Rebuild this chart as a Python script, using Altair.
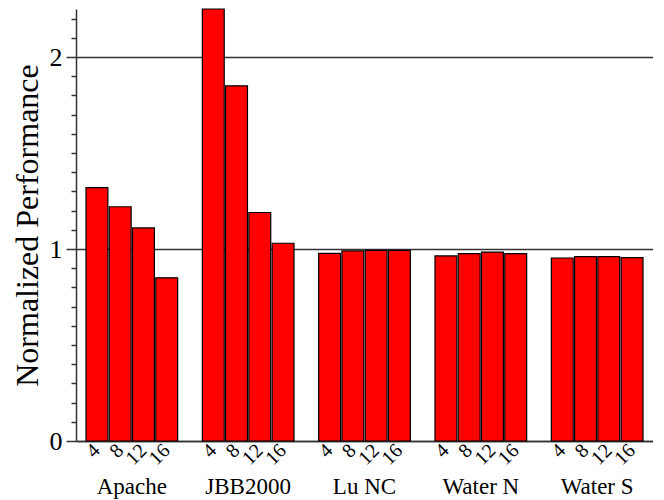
import altair as alt
import pandas as pd

groups = ["Apache", "JBB2000", "Lu NC", "Water N", "Water S"]
configs = ["4", "8", "12", "16"]
apache = [1.32, 1.22, 1.11, 0.85]
jbb2000 = [2.25, 1.85, 1.19, 1.03]
lu_nc = [0.977, 0.99, 0.993, 0.993]
water_n = [0.964, 0.976, 0.984, 0.976]
water_s = [0.953, 0.96, 0.96, 0.955]
y_ticks = [0, 0.1, 0.2, 0.3, 0.4, 0.5, 0.6, 0.7, 0.8, 0.9, 1,
           1.1, 1.2, 1.3, 1.4, 1.5, 1.6, 1.7, 1.8, 1.9, 2, 2.1, 2.2]
major_ticks = [0, 1, 2]

rows = []
x_domain = []
for i, (g, vals) in enumerate(zip(groups, [apache, jbb2000, lu_nc, water_n, water_s])):
    if i > 0:
        x_domain.append(f"gap{i}")
    for c, v in zip(configs, vals):
        key = f"{g}|{c}"
        x_domain.append(key)
        rows.append({"key": key, "group": g, "config": c, "value": v})
df = pd.DataFrame(rows)
gdf = pd.DataFrame({"key": [f"{g}|8" for g in groups], "group": groups})

FONT = "Liberation Serif"
AX = "#333333"
major_test = " || ".join(f"datum.value === {m}" for m in major_ticks)

x_scale = alt.Scale(domain=x_domain, paddingInner=0.06, paddingOuter=0.43)

bars = alt.Chart(df).mark_bar(color="#ff0000", stroke="black", strokeWidth=1.2).encode(
    x=alt.X("key:N", scale=x_scale,
            axis=alt.Axis(title=None, ticks=False, labelAngle=315,
                          labelAlign="right", labelBaseline="middle", labelPadding=6,
                          labelExpr="indexof(datum.value, '|') >= 0 ? split(datum.value, '|')[1] : ''",
                          labelFontSize=20, labelFont=FONT, labelColor="black",
                          labelOverlap=False, labelBound=False, labelFlush=False,
                          domainColor=AX, domainWidth=1.5, grid=False)),
    y=alt.Y("value:Q", scale=alt.Scale(domain=[0, 2.25], nice=False, zero=True),
            axis=alt.Axis(title="Normalized Performance", values=y_ticks,
                          labelExpr=f"({major_test}) ? format(datum.value, 'd') : ''",
                          labelFont=FONT, labelFontSize=26, labelColor="black",
                          labelPadding=4,
                          titleFont=FONT, titleFontSize=32, titleFontWeight="normal",
                          titleColor="black", titlePadding=5,
                          tickColor=AX, tickWidth=1.5,
                          tickSize={"condition": {"test": major_test, "value": 10}, "value": 5},
                          domainColor=AX, domainWidth=1.5,
                          grid=True, gridColor=AX, gridWidth=1.5,
                          gridOpacity={"condition": {"test": major_test, "value": 1}, "value": 0})),
)

names = alt.Chart(gdf).mark_text(align="center", baseline="alphabetic", dx=11.6,
                                 font=FONT, fontSize=23, color="black").encode(
    x=alt.X("key:N", scale=x_scale),
    y=alt.value(485),
    text="group:N",
)

chart = alt.layer(bars, names).properties(
    width=577, height=432,
    padding={"left": 3, "top": 0, "right": 0, "bottom": 0},
).configure_view(stroke=None)

chart.save("out.html", embed_options={"renderer": "svg", "actions": False})
